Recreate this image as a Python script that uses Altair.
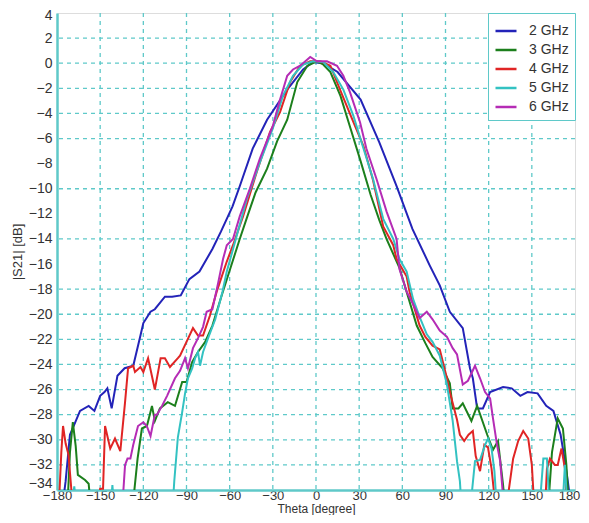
import altair as alt
import pandas as pd

series_names = ["2 GHz", "3 GHz", "4 GHz", "5 GHz", "6 GHz"]
series_colors = ["#2323b8", "#1c7f1c", "#e02525", "#33c2c2", "#b52cb5"]

theta_2ghz = [-177, -174, -171, -168, -164, -158, -154, -150, -147, -145, -142, -138, -133, -127, -122, -120,
              -115, -112, -105, -100, -94, -88, -81, -72, -66, -58, -53, -44, -34, -20, -9, -2, 5, 15, 31, 44,
              56, 67, 79, 86, 93, 102, 107, 109, 112, 116, 121, 130, 136, 142, 147, 154, 160, 165, 170, 173, 175, 178]
db_2ghz = [-36, -33.3, -29.6, -28.8, -27.7, -27.3, -27.7, -26.5, -26.2, -25.9, -27.5, -24.9, -24.3, -24.1, -21.7, -20.7,
           -19.8, -19.6, -18.6, -18.6, -18.5, -17.2, -16.6, -14.8, -13.4, -11.4, -9.8, -6.8, -4.5, -2.1, -0.5, 0.1, 0, -0.7, -2.9, -6.3,
           -9.8, -13.2, -16.1, -17.7, -19.8, -21.1, -24.3, -25.1, -27.5, -27.5, -26.2, -25.8, -25.9, -26.5, -26.2, -26.3, -27.3, -27.7, -29.6, -31.7, -33.3, -36]

theta_3ghz = [-173, -171, -169, -167, -165.5, -160.5, -158, -156, -128, -124, -121, -117.5, -114, -112, -108.5, -103,
              -98, -93, -90, -86, -82, -77, -72, -65, -58, -53, -48, -42, -34, -27, -20, -13, -6, 0.5, 5, 10, 17, 24,
              31, 38, 44, 49, 58, 64, 70, 76, 81, 88, 93, 95, 99, 102, 108, 112, 119, 123, 126.5, 130, 132,
              161, 164, 168, 171.6, 174, 176]
db_3ghz = [-36, -31, -28.6, -30.5, -32.8, -33.2, -33.5, -36, -36, -31.5, -29.1, -28.9, -27.3, -28.5, -27.5, -27,
           -27.3, -25.4, -25.4, -23.8, -23, -22.2, -20.9, -18.3, -15.8, -14, -12.3, -10.3, -8.4, -6.2, -4.5, -1.5, -0.2, 0.15, -0.1, -0.7, -2.6, -5.2,
           -7.8, -10.5, -12.5, -14, -16.3, -18.6, -20.9, -22.3, -23.4, -24.3, -25.5, -27.5, -27.5, -27.1, -28.5, -27.3, -29.6, -30.8, -30.1, -33.6, -36,
           -36, -31, -28.3, -29.1, -32, -36]

theta_4ghz = [-179, -177, -175.8, -174, -172, -170, -169, -152, -150, -148, -146.6, -143, -139.7, -136, -132.7, -130.6,
              -127, -125.8, -122, -120, -116.7, -112, -108, -105, -101.5, -96, -94.5, -90, -85.5, -82, -78.5, -73.7,
              -69, -62, -57.7, -50.7, -41, -32, -25, -18, -11, -4, 3, 10, 16.7, 26, 33, 39.6, 46.7, 53.7, 56, 63, 65,
              72, 76, 81, 86, 91, 93, 98, 100, 103, 106, 109, 111, 114, 117, 119.5, 122, 124, 125,
              132, 134, 137, 140.5, 144, 147.5, 150, 152, 159, 160.5, 162.6, 166, 168, 170.6, 173, 174.5]
db_4ghz = [-36, -31, -28.9, -30.3, -31.2, -34, -36, -36, -33.9, -33.9, -28.9, -30.7, -29.9, -30.9, -27, -24.3,
           -24.1, -24.6, -24.2, -24.6, -23.5, -26.0, -23.5, -23.5, -24.2, -23.5, -23.3, -22.2, -21.1, -21.7, -21.7, -20.1,
           -18.2, -15.8, -14.5, -12.2, -8.6, -5.5, -3.9, -1.5, -0.2, 0.15, 0.15, -0.2, -2.1, -4.7, -6.6, -9.3, -13, -14.5, -15.6, -17, -18.2,
           -20.9, -21.8, -22.5, -22.8, -25.1, -26.2, -28.4, -29.6, -30.1, -29.6, -29.3, -31.3, -32.5, -30.4, -30.6, -32.3, -34.5, -36,
           -36, -34, -31.5, -30.1, -29.3, -29.9, -32, -36, -36, -32.3, -31.5, -32, -32, -30.7, -32.3, -36]

theta_5ghz = [-170, -168, -166, -143, -141.5, -140, -100, -98.5, -96, -93, -91, -89, -86, -84, -82, -80.6, -78.5,
              -75, -70, -65, -62, -55, -48, -39, -30, -23, -16, -9, -2, 5, 12, 19, 26, 33, 39.6, 46.7, 53.7, 58,
              63, 67.5, 72, 77, 81, 86, 91, 95, 98, 100, 101.5, 107, 108.5, 110.5, 114, 117.5, 119.6, 122, 124, 126,
              155, 158, 160.5, 162.6, 171, 173, 175]
db_5ghz = [-36, -33.7, -36, -36, -33.6, -36, -36, -33.3, -29.8, -27.8, -26.3, -25.1, -24.3, -23.5, -23, -24.1, -23,
           -21.9, -20.4, -18.2, -16.6, -13.7, -10.8, -7.9, -5.2, -2.6, -1, -0.1, 0.15, 0.1, -0.7, -2.1, -4.2, -6.8, -9.2, -12.4, -14, -15.6,
           -16.6, -18.8, -20.2, -21.6, -22.2, -23.3, -25.6, -28.5, -31.7, -33.3, -36, -36, -34, -31.7, -31.6, -30.4, -29.9, -30.7, -32.5, -36,
           -36, -31.5, -31.5, -36, -36, -32, -36]

theta_6ghz = [-135, -132.7, -131, -129, -127, -123.7, -120, -117.6, -115, -112, -110.5, -107, -103.5, -98, -94.5, -91,
              -89, -85.5, -82, -78.5, -76, -72, -68, -64.6, -62, -57.7, -53, -46, -39, -30, -25, -20, -16, -11, -6, -4,
              0.7, 7.6, 14.6, 19, 23.6, 30.6, 35, 42, 49, 56, 58, 63, 67.5, 72, 77, 81, 86, 91, 95, 98, 102, 105.6,
              110.5, 114, 117.5, 121, 123, 125.8, 128, 130, 131]
db_6ghz = [-36, -32, -31.5, -31.5, -30.4, -28.9, -28.6, -28.9, -29.7, -28, -28, -27.3, -26.5, -25.1, -24.5, -23.5,
           -24.3, -22.7, -21.9, -21, -19.8, -19.6, -17.5, -15.6, -14.5, -14, -12.2, -10, -7.6, -5, -2.9, -1, -0.5, -0.2, 0.3, 0.5,
           0.15, 0.15, -0.2, -1, -2.3, -4.7, -6.8, -9.2, -11.8, -14, -16.4, -18.2, -19.2, -20.3, -19.8, -20.4, -21.3, -21.8, -22.7, -23.2, -25.6, -25.3,
           -24.1, -25.1, -26.2, -26.7, -28.3, -30.4, -31.7, -34.5, -36]

x_ticks = list(range(-180, 181, 30))
y_ticks = list(range(-34, 5, 2))
grid_x = [-150, -120, -90, -60, -30, 0, 30, 60, 90, 120, 150]
grid_y = [2, 0, -2, -4, -6, -10, -14, -18, -20, -22, -24, -26, -28, -30, -32]

rows = []
for name, th, db in zip(series_names,
                        [theta_2ghz, theta_3ghz, theta_4ghz, theta_5ghz, theta_6ghz],
                        [db_2ghz, db_3ghz, db_4ghz, db_5ghz, db_6ghz]):
    for i, (t, d) in enumerate(zip(th, db)):
        rows.append({"series": name, "theta": t, "db": d, "idx": i})
df = pd.DataFrame(rows)

teal = "#5fc9c9"
font = "Liberation Sans"

xscale = alt.Scale(domain=[-180, 180], nice=False, zero=False)
yscale = alt.Scale(domain=[-34, 4], nice=False, zero=False)

x_axis = alt.Axis(values=x_ticks, title="Theta [degree]", grid=False, ticks=False,
                  labelFontSize=13, labelColor="#333333", labelFont=font, labelPadding=-1,
                  labelOverlap=False,
                  labelOffset={"condition": {"test": "datum.value == 180", "value": -6}, "value": 0},
                  titleFont=font, titleFontSize=12, titleFontWeight="normal", titleColor="#333333",
                  titlePadding=1, domainColor=teal, domainWidth=2.5, labelFlush=False)
y_axis = alt.Axis(values=y_ticks, title="|S21| [dB]", grid=False, ticks=False,
                  labelFontSize=14, labelColor="#333333", labelFont=font, labelPadding=5,
                  labelOverlap=False,
                  labelOffset={"condition": [{"test": "datum.value == 4", "value": 2},
                                             {"test": "datum.value == -34", "value": -7}], "value": 0},
                  titleFont=font, titleFontSize=13, titleFontWeight="normal", titleColor="#333333",
                  titlePadding=4, domainColor=teal, domainWidth=2.5, labelFlush=False)

lines = alt.Chart(df).mark_line(strokeWidth=2, clip=True).encode(
    x=alt.X("theta:Q", scale=xscale, axis=x_axis, title="Theta [degree]"),
    y=alt.Y("db:Q", scale=yscale, axis=y_axis, title="|S21| [dB]"),
    color=alt.Color("series:N", scale=alt.Scale(domain=series_names, range=series_colors),
                    legend=alt.Legend(title=None, orient="top-right", offset=0,
                                      symbolType="stroke", symbolSize=441, symbolStrokeWidth=2.5,
                                      labelFontSize=14, labelFont=font, labelColor="#333333",
                                      labelOffset=11, rowPadding=-3, padding=6,
                                      strokeColor=teal, fillColor="white")),
    order="idx:Q",
)

gx = alt.Chart(pd.DataFrame({"g": grid_x})).mark_rule(
    color=teal, strokeDash=[4, 4], strokeWidth=1.3
).encode(x=alt.X("g:Q", scale=xscale, axis=x_axis, title="Theta [degree]"))

gy = alt.Chart(pd.DataFrame({"g": grid_y})).mark_rule(
    color=teal, strokeDash=[4, 4], strokeWidth=1.3
).encode(y=alt.Y("g:Q", scale=yscale, axis=y_axis, title="|S21| [dB]"))

chart = alt.layer(gx, gy, lines).properties(
    width=518, height=477,
    autosize=alt.AutoSizeParams(type="none"),
    padding={"left": 49, "top": 5, "right": 6, "bottom": 25},
).configure_view(stroke=teal, strokeWidth=2.5).configure(background="white")

chart.save("out.html", embed_options={"renderer": "svg", "actions": False})
